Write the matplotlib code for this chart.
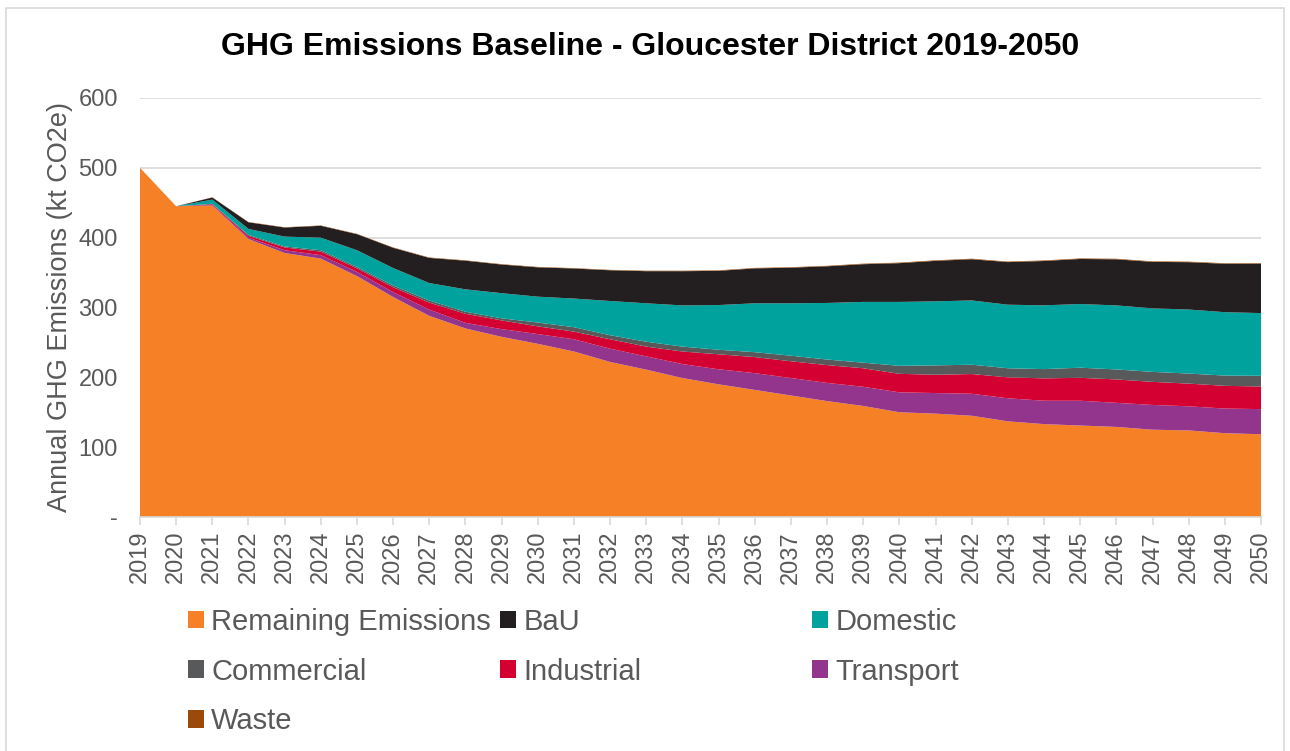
import matplotlib
matplotlib.use("Agg")
import matplotlib.pyplot as plt
from matplotlib.patches import Rectangle, Patch

plt.rcParams["font.family"] = ["Liberation Sans", "DejaVu Sans"]

years = list(range(2019, 2051))

remaining = [500, 445, 446, 398, 378, 370, 345, 315, 288, 270, 258, 248, 237, 222, 211, 199,
             190, 182, 174, 166, 159, 150, 148, 145, 137, 133, 131, 129, 125, 124, 120, 118.5]
transport = [0, 0, 1, 2, 4, 5, 6, 7, 9, 8, 11, 14, 17.5, 19, 19, 20,
             21.5, 24, 25, 26, 27.5, 28.5, 29.5, 31.5, 33, 33.5, 35.5, 34.5, 35.5, 34.5, 35.3, 36]
industrial = [0, 0, 1, 2.5, 4, 5, 5, 7, 10, 13, 12.5, 11, 11, 13.5, 14, 18,
              21.5, 23, 24, 25.5, 26.5, 26.5, 26.2, 28.2, 30, 32, 32.8, 33.5, 33, 32.5, 32.5, 32.4]
commercial = [0, 0, 0.5, 1.5, 1.5, 2, 2, 2.5, 3, 3, 3, 5.5, 6.3, 5.8, 7, 7,
              6.5, 7, 8, 8, 8, 11.5, 13.4, 13.4, 13, 13.3, 14.5, 14.3, 14.3, 14.4, 14.7, 15.3]
domestic = [0, 0, 6, 8.5, 14, 18, 24, 25, 25, 32, 36, 37, 41, 49, 55, 59,
            64, 70, 75, 81, 87, 91.5, 91.7, 92, 91, 91.3, 91.2, 91.7, 91, 91.7, 90.8, 89.8]
bau = [0, 0, 3, 9.5, 13, 17, 23, 29, 36, 41, 41, 42, 43, 44, 46, 49,
       49, 50, 51, 52.5, 54, 55.5, 58, 59, 61, 63.5, 64.5, 66, 66.5, 67.8, 69.3, 70.7]
waste = [0, 0, 0.3, 0.4, 0.4, 0.5, 0.5, 0.5, 0.6, 0.6, 0.6, 0.6, 0.6, 0.6, 0.7, 0.7,
         0.7, 0.7, 0.7, 0.7, 0.8, 0.8, 0.8, 0.8, 0.8, 0.8, 0.8, 0.8, 0.8, 0.8, 0.8, 0.8]

c_remaining = "#F58026"
c_bau = "#231F20"
c_domestic = "#00A29D"
c_commercial = "#58595B"
c_industrial = "#D50032"
c_transport = "#93358D"
c_waste = "#9C4A0A"
text_grey = "#595959"

fig = plt.figure(figsize=(12.9, 7.51), dpi=100)
ax = fig.add_axes([140 / 1290, 1 - 517 / 751, 1121 / 1290, 419 / 751])

ax.stackplot(years, remaining, transport, industrial, commercial, domestic, bau, waste,
             colors=[c_remaining, c_transport, c_industrial, c_commercial,
                     c_domestic, c_bau, c_waste],
             linewidth=0)

ax.set_xlim(2019, 2050)
ax.set_ylim(0, 600)
ax.set_yticks(range(0, 601, 100))
ax.set_yticklabels(["-", "100", "200", "300", "400", "500", "600"])
ax.set_xticks(years)
ax.set_xticklabels([str(y) for y in years], rotation=90)

ax.grid(axis="y", color="#D9D9D9", linewidth=1.2)
ax.set_axisbelow(True)
for side in ["top", "right", "left"]:
    ax.spines[side].set_visible(False)
ax.spines["bottom"].set_color("#D9D9D9")
ax.spines["bottom"].set_linewidth(1.2)

ax.tick_params(axis="y", length=0, labelsize=17, colors=text_grey, pad=16)
ax.tick_params(axis="x", length=6, width=1.2, color="#D9D9D9", labelsize=17,
               labelcolor=text_grey, pad=4)

ax.set_ylabel("Annual GHG Emissions (kt CO2e)", fontsize=19.5, color=text_grey, labelpad=4)
fig.text(650 / 1290, 1 - 47 / 751, "GHG Emissions Baseline - Gloucester District 2019-2050",
         ha="center", va="center", fontsize=23, fontweight="bold", color="black")

# legend laid out in three equal-width columns like the original
columns = [
    [("Remaining Emissions", c_remaining), ("Commercial", c_commercial), ("Waste", c_waste)],
    [("BaU", c_bau), ("Industrial", c_industrial)],
    [("Domestic", c_domestic), ("Transport", c_transport)],
]
col_x = [188 / 1290, 500 / 1290, 812 / 1290]
for cx, entries in zip(col_x, columns):
    handles = [Patch(facecolor=c, edgecolor="none") for _, c in entries]
    labels = [n for n, _ in entries]
    fig.legend(handles, labels, loc="upper left", bbox_to_anchor=(cx, 1 - 608 / 751),
               frameon=False, fontsize=21, labelcolor=text_grey,
               handlelength=0.55, handleheight=0.55, handletextpad=0.25,
               labelspacing=0.74, borderpad=0, borderaxespad=0)

fig.patches.append(Rectangle((6 / 1290, -0.01), 1278 / 1290, 1.01 - 8 / 751,
                             transform=fig.transFigure, fill=False,
                             edgecolor="#D9D9D9", linewidth=1.2))

fig.savefig("out.png", dpi=100)
